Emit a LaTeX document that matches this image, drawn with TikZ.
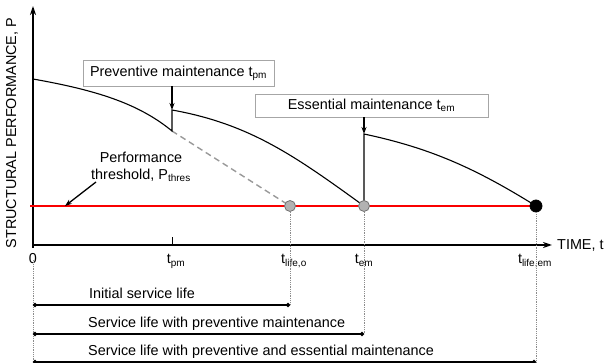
\documentclass[tikz,border=0pt,12pt]{standalone}
\usepackage{fontspec}
\setmainfont{Liberation Sans}
\usetikzlibrary{arrows.meta}
\definecolor{thresred}{RGB}{250,0,0}
\tikzstyle{axis}=[line width=1.6pt, -{Stealth[length=9pt,width=6pt]}]
\tikzstyle{curve}=[line width=1.1pt]
\tikzstyle{box}=[rectangle, draw=black!35, line width=0.9pt, fill=white, inner sep=0pt]
\tikzstyle{pointer}=[line width=1.3pt, -{Stealth[length=7pt,width=5pt]}]
\tikzstyle{guide}=[densely dotted, draw=black!45, line width=0.8pt]
\tikzstyle{span}=[line width=2pt, {Circle[length=4pt]}-{Circle[length=4pt]}]
\tikzstyle{life}=[circle, draw=black!55, line width=0.8pt, fill=black!30, inner sep=0pt, minimum size=11pt]
\tikzstyle{lbl}=[inner sep=0pt, anchor=base]

\begin{document}
\begin{tikzpicture}[x=1pt,y=-1pt,font=\large]
	\useasboundingbox (0,0) rectangle (606,363);
	
	%Key points
	\coordinate (o) at (33,245);
	\coordinate (ybot) at (33,248);
	\coordinate (ytop) at (33,6);
	\coordinate (xend) at (552,245);
	\coordinate (p0) at (33,79);
	\coordinate (pmlow) at (172,131);
	\coordinate (pmhigh) at (172,110);
	\coordinate (emhigh) at (364,134);
	\coordinate (to) at (290,206);
	\coordinate (tem) at (364,206);
	\coordinate (tend) at (536,206);
	\coordinate (thl) at (30,206);
	\coordinate (pmtick) at (172,237);
	\coordinate (pmaxis) at (172,245);
	
	%The axes
	\draw[axis] (ybot) -- (ytop);
	\draw[axis] (o) -- (xend);
	\draw[line width=0.8pt] (pmaxis) -- (pmtick);
	\node[rotate=90] (ylabel) at (12,133) {STRUCTURAL PERFORMANCE, P};
	\node[anchor=west, inner sep=0pt] (xlabel) at (557,245) {TIME, t};
	
	%The threshold
	\draw[draw=thresred, line width=1.3pt] (thl) -- (tend);
	\node[align=center, inner sep=0pt] (thres) at (141,167) {Performance\\[-1pt]threshold, P\textsubscript{thres}};
	\coordinate (thtail) at (96,182);
	\coordinate (thtip) at (65,206);
	\draw[pointer] (thtail) -- (thtip);
	
	%The performance profile
	\draw[dashed, dash pattern=on 6pt off 4pt, draw=black!40, line width=1.4pt] (pmlow) -- (to);
	\draw[curve] (p0) .. controls (95,90) and (138,103) .. (pmlow) -- (pmhigh)
		.. controls (250,124) and (295,156) .. (tem) -- (emhigh)
		.. controls (430,148) and (475,168) .. (tend);
	
	%The maintenance boxes
	\node[box, minimum width=191pt, minimum height=26pt] (pmbox) at (178.5,73) {Preventive maintenance t\textsubscript{pm}};
	\node[box, minimum width=233pt, minimum height=23pt] (embox) at (371.5,105.5) {Essential maintenance t\textsubscript{em}};
	\draw[pointer] (pmbox.south -| pmhigh) -- (pmhigh);
	\draw[pointer] (embox.south -| emhigh) -- (emhigh);
	
	%The service lives
	\node[life] (lo) at (to) {};
	\node[life] (lem) at (tem) {};
	\node[life, draw=black, fill=black, minimum size=12pt] (lend) at (tend) {};
	
	%The time labels
	\node[lbl] (l0) at (33,264) {0};
	\node[lbl] (lpm) at (176,264) {t\textsubscript{pm}};
	\node[lbl] (llo) at (294,264) {t\textsubscript{life,o}};
	\node[lbl] (lle) at (364,264) {t\textsubscript{em}};
	\node[lbl] (llem) at (535,264) {t\textsubscript{life,em}};
	
	%The spans
	\coordinate (s1) at (33,305);
	\coordinate (e1) at (290,305);
	\coordinate (s2) at (33,334);
	\coordinate (e2) at (364,334);
	\coordinate (s3) at (33,362);
	\coordinate (e3) at (536,362);
	\coordinate (gbot) at (33,363);
	\coordinate (ebot) at (536,363);
	\draw[guide] (l0.south) ++(0,-4) -- (gbot);
	\draw[guide] (lo) -- (e1);
	\draw[guide] (lem) -- (e2);
	\draw[guide] (lend) -- (ebot);
	\draw[span] (s1) -- (e1);
	\draw[span] (s2) -- (e2);
	\draw[span] (s3) -- (e3);
	\node[anchor=base west, inner sep=0pt] (n1) at (89,299) {Initial service life};
	\node[anchor=base west, inner sep=0pt] (n2) at (88,328) {Service life with preventive maintenance};
	\node[anchor=base west, inner sep=0pt] (n3) at (88,356) {Service life with preventive and essential maintenance};
\end{tikzpicture}
\end{document}
